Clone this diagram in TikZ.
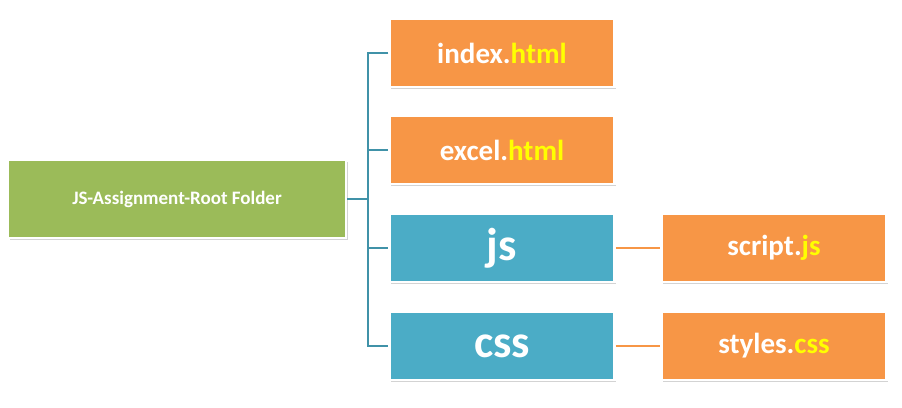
\documentclass[tikz,border=0pt]{standalone}
\usepackage{fontspec}
\setmainfont{Carlito}
\usetikzlibrary{shadows}
\definecolor{grn}{HTML}{9BBB59}
\definecolor{org}{HTML}{F79646}
\definecolor{blu}{HTML}{4BACC6}
\definecolor{yel}{HTML}{FFFF00}
\begin{document}
\begin{tikzpicture}[x=1pt,y=-1pt,
 box/.style={draw=white,line width=2.5pt,drop shadow={shadow xshift=1.5pt,shadow yshift=-1.5pt,opacity=0.35},text=white,font=\bfseries,inner sep=0pt,minimum width=225pt,minimum height=68pt},
 conn/.style={draw=blu!85!black,line width=1.6pt}]
\useasboundingbox (0,0) rectangle (902,407);
\node[box,fill=grn,minimum width=338pt,minimum height=78pt,font=\bfseries\fontsize{19}{22}\selectfont] (root) at (177,199) {JS-Assignment-Root Folder};
\node[box,fill=org,font=\bfseries\fontsize{29}{32}\selectfont] (a) at (502,53) {index.\textcolor{yel}{html}};
\node[box,fill=org,font=\bfseries\fontsize{29}{32}\selectfont] (b) at (502,150) {excel.\textcolor{yel}{html}};
\node[box,fill=blu,font=\bfseries\fontsize{46}{50}\selectfont] (c) at (502,248) {js};
\node[box,fill=blu,font=\bfseries\fontsize{46}{50}\selectfont] (d) at (502,346) {css};
\node[box,fill=org,font=\bfseries\fontsize{29}{32}\selectfont] (e) at (774,248) {script.\textcolor{yel}{js}};
\node[box,fill=org,font=\bfseries\fontsize{29}{32}\selectfont] (f) at (774,346) {styles.\textcolor{yel}{css}};
\coordinate (s) at (368,199);
\draw[conn] (root.east) -- (s);
\draw[conn] (a.west) -| (s) |- (d.west);
\draw[conn] (s) |- (b.west);
\draw[conn] (s) |- (c.west);
\draw[draw=org,line width=1.6pt] (c.east) -- (e.west);
\draw[draw=org,line width=1.6pt] (d.east) -- (f.west);
\end{tikzpicture}
\end{document}
